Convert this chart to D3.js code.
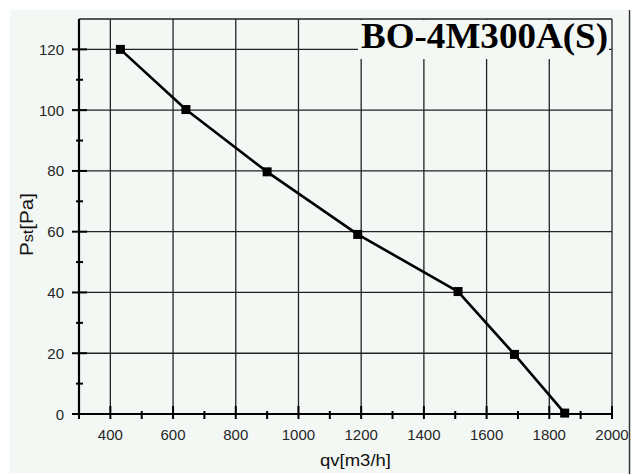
<!DOCTYPE html>
<html><head><meta charset="utf-8">
<script src="https://cdn.jsdelivr.net/npm/d3@7"></script>
<style>
html,body{margin:0;padding:0;background:#fff;}
svg{display:block;}
</style></head>
<body>
<svg id="chart" width="631" height="474"></svg>
<script>
const flow = [432, 641, 900, 1189, 1509, 1689, 1849];
const pressure = [120, 100.2, 79.7, 59.1, 40.3, 19.6, 0.3];
const xTicks = [400, 600, 800, 1000, 1200, 1400, 1600, 1800, 2000];
const xMinorTicks = [500, 700, 900, 1100, 1300, 1500, 1700, 1900];
const yTicks = [0, 20, 40, 60, 80, 100, 120];
const yMinorTicks = [10, 30, 50, 70, 90, 110];
const title = "BO-4M300A(S)";
const xTitle = "qv[m3/h]";

const svg = d3.select("#chart");
const L = 79, R = 612, T = 19, B = 414;
const x = d3.scaleLinear().domain([300, 2000]).range([L, R]);
const y = d3.scaleLinear().domain([0, 130]).range([B, T]);

// panel background
svg.append("rect").attr("x", 10).attr("y", 10).attr("width", 618).attr("height", 463).attr("fill", "#f4f8f5");
svg.append("line").attr("x1", 629.5).attr("x2", 629.5).attr("y1", 10).attr("y2", 474).attr("stroke", "#333").attr("stroke-width", 1.5);

const grid = svg.append("g").attr("stroke", "#222").attr("stroke-width", 1.3);
grid.selectAll("line.v").data(xTicks).join("line")
  .attr("x1", d => x(d)).attr("x2", d => x(d)).attr("y1", T).attr("y2", B);
grid.selectAll("line.h").data(yTicks.filter(d => d > 0)).join("line").attr("class", "h")
  .attr("x1", L).attr("x2", R).attr("y1", d => y(d)).attr("y2", d => y(d));
// top border
grid.append("line").attr("x1", L).attr("x2", R).attr("y1", y(130)).attr("y2", y(130));

// title box
svg.append("rect").attr("x", 358).attr("y", 20).attr("width", 251).attr("height", 39).attr("fill", "#f4f8f5");
svg.append("text").attr("x", 361).attr("y", 48)
  .attr("font-family", "'Liberation Serif','Times New Roman',serif").attr("font-weight", "bold")
  .attr("font-size", 36).attr("textLength", 247).attr("lengthAdjust", "spacingAndGlyphs")
  .attr("fill", "#000").text(title);

// axes
svg.append("line").attr("x1", L).attr("x2", L).attr("y1", T).attr("y2", B + 1).attr("stroke", "#000").attr("stroke-width", 2.2);
svg.append("line").attr("x1", L).attr("x2", R + 1).attr("y1", B).attr("y2", B).attr("stroke", "#000").attr("stroke-width", 2.2);

const ax = svg.append("g").attr("stroke", "#000").attr("stroke-width", 2);
ax.selectAll("line.xm").data(xTicks).join("line").attr("class", "xm")
  .attr("x1", d => x(d)).attr("x2", d => x(d)).attr("y1", B - 8).attr("y2", B + 5);
ax.selectAll("line.xn").data(xMinorTicks).join("line").attr("class", "xn")
  .attr("x1", d => x(d)).attr("x2", d => x(d)).attr("y1", B - 3).attr("y2", B + 5);
ax.append("line").attr("x1", L).attr("x2", L).attr("y1", B).attr("y2", B + 5);
ax.selectAll("line.ym").data(yTicks).join("line").attr("class", "ym")
  .attr("x1", L - 7).attr("x2", L + 8).attr("y1", d => y(d)).attr("y2", d => y(d));
ax.selectAll("line.yn").data(yMinorTicks).join("line").attr("class", "yn")
  .attr("x1", L - 3).attr("x2", L + 4).attr("y1", d => y(d)).attr("y2", d => y(d));

const lab = svg.append("g").attr("font-family", "'Liberation Sans',Arial,sans-serif").attr("font-size", 15).attr("fill", "#262626");
lab.selectAll("text.x").data(xTicks).join("text").attr("class", "x")
  .attr("x", d => x(d)).attr("y", 440).attr("text-anchor", "middle").text(d => d);
lab.selectAll("text.y").data(yTicks).join("text").attr("class", "y")
  .attr("x", 64).attr("y", d => y(d) + 5.5).attr("text-anchor", "end").text(d => d);

// axis titles
svg.append("text").attr("x", 320).attr("y", 466)
  .attr("font-family", "'Liberation Sans',Arial,sans-serif").attr("font-size", 17)
  .attr("textLength", 71).attr("lengthAdjust", "spacingAndGlyphs")
  .attr("fill", "#111").text(xTitle);
const yt = svg.append("text").attr("transform", "translate(33,256) rotate(-90)")
  .attr("font-family", "'Liberation Sans',Arial,sans-serif").attr("font-size", 19)
  .attr("textLength", 63).attr("lengthAdjust", "spacingAndGlyphs").attr("fill", "#111");
yt.append("tspan").text("P");
yt.append("tspan").attr("font-size", 15).text("st");
yt.append("tspan").text("[Pa]");

// curve
const pts = flow.map((f, i) => [f, pressure[i]]);
svg.append("path").datum(pts)
  .attr("d", d3.line().x(d => x(d[0])).y(d => y(d[1])))
  .attr("fill", "none").attr("stroke", "#000").attr("stroke-width", 2.6).attr("stroke-linejoin", "round");
svg.selectAll("rect.m").data(pts).join("rect").attr("class", "m")
  .attr("x", d => x(d[0]) - 4.5).attr("y", d => y(d[1]) - 4.5)
  .attr("width", 9).attr("height", 9).attr("fill", "#000");
</script>
</body></html>
